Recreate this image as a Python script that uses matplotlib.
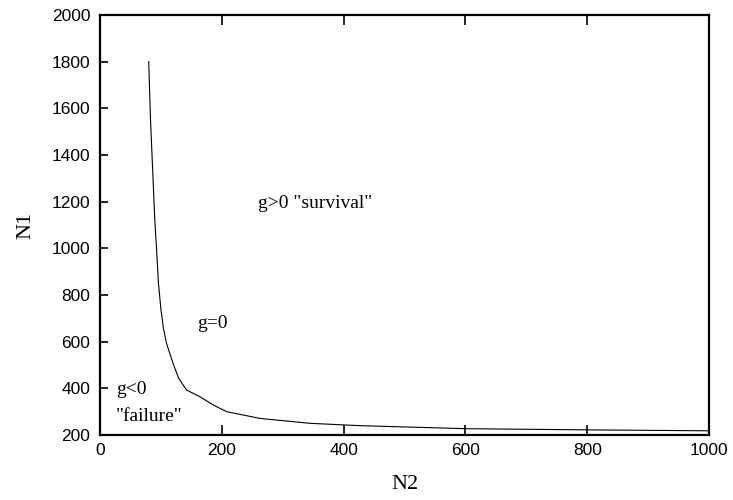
import matplotlib
matplotlib.use('Agg')
import matplotlib.pyplot as plt
import numpy as np

# limit state curve g=0
n2 = [80, 83, 90, 93, 96, 100, 104, 109, 120, 129, 142, 164, 185, 208, 263, 345, 427, 602, 800, 1000]
n1 = [1800, 1550, 1121, 993, 850, 740, 660, 595, 507, 444, 393, 364, 330, 300, 271, 250, 240, 227, 222, 218]

x_ticks = [0, 200, 400, 600, 800, 1000]
y_ticks = [200, 400, 600, 800, 1000, 1200, 1400, 1600, 1800, 2000]

fig = plt.figure(figsize=(7.33, 5.0), dpi=100)
ax = fig.add_axes([0.1364, 0.13, 0.8309, 0.84])

ax.plot(n2, n1, color='black', linewidth=0.8)

ax.set_xlim(0, 1000)
ax.set_ylim(200, 2000)
ax.set_xticks(x_ticks)
ax.set_yticks(y_ticks)
for lab in ax.get_xticklabels() + ax.get_yticklabels():
    lab.set_family('Liberation Sans')
    lab.set_fontsize(12.5)
ax.tick_params(axis='x', direction='in', length=7, width=1.2, top=True, pad=6)
ax.tick_params(axis='y', direction='in', length=6, width=1.2, right=False, pad=7)
for s in ax.spines.values():
    s.set_linewidth(1.6)

ax.set_xlabel('N2', family='Liberation Serif', fontsize=16, labelpad=12)
ax.set_ylabel('N1', family='Liberation Serif', fontsize=16, labelpad=12)

serif = dict(family='Liberation Serif', fontsize=14, va='center', ha='left')
ax.text(259, 1194, 'g>0 "survival"', **serif)
ax.text(159, 676, 'g=0', **serif)
ax.text(26, 393, 'g<0', **serif)
ax.text(26, 278, '"failure"', **serif)

fig.savefig('out.png', dpi=100)
